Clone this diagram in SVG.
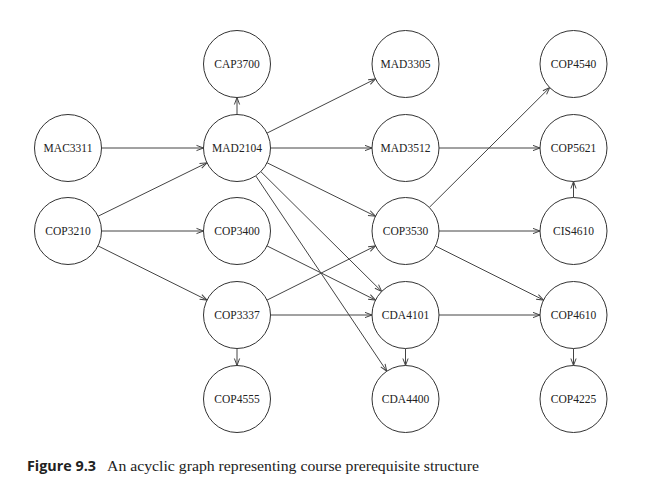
<svg xmlns="http://www.w3.org/2000/svg" width="658" height="499" viewBox="0 0 658 499">
<style>
.n circle{fill:#fff;stroke:#333;stroke-width:1}
.n text{font-family:"Liberation Serif","Times New Roman",serif;font-size:11.5px;fill:#222;text-anchor:middle}
.e line{stroke:#444;stroke-width:1;fill:none;marker-end:url(#a)}
.cap{font-size:15px;fill:#222}
</style>
<defs>
<marker id="a" markerUnits="userSpaceOnUse" viewBox="-1 -4 9 8" markerWidth="9" markerHeight="8" refX="7" refY="0" orient="auto">
<path d="M0,-2.6 L7,0 L0,2.6" fill="none" stroke="#444" stroke-width="1"/>
</marker>
</defs>
<rect width="658" height="499" fill="#fff"/>
<g id="connectors" class="e">
<line x1="237" y1="114.5" x2="237" y2="97.5"/>
<line x1="101.5" y1="148" x2="203.5" y2="148"/>
<line x1="98.1" y1="216.2" x2="206.9" y2="162.8"/>
<line x1="101.5" y1="231" x2="203.5" y2="231"/>
<line x1="98" y1="245.9" x2="207" y2="300.1"/>
<line x1="267" y1="133.1" x2="375.5" y2="78.9"/>
<line x1="270.5" y1="148" x2="372" y2="148"/>
<line x1="267.1" y1="162.8" x2="375.4" y2="216.2"/>
<line x1="260.8" y1="171.6" x2="381.7" y2="291.4"/>
<line x1="255.7" y1="175.8" x2="386.8" y2="371.2"/>
<line x1="267" y1="245.9" x2="375.5" y2="300.1"/>
<line x1="267" y1="300.1" x2="375.5" y2="245.9"/>
<line x1="270.5" y1="315" x2="372" y2="315"/>
<line x1="237" y1="348.5" x2="237" y2="365.5"/>
<line x1="439" y1="148" x2="540" y2="148"/>
<line x1="429.3" y1="207.4" x2="549.7" y2="87.6"/>
<line x1="439" y1="231" x2="540" y2="231"/>
<line x1="435.5" y1="246" x2="543.5" y2="300"/>
<line x1="573.5" y1="197.5" x2="573.5" y2="181.5"/>
<line x1="439" y1="315" x2="540" y2="315"/>
<line x1="405.5" y1="348.5" x2="405.5" y2="365.5"/>
<line x1="573.5" y1="348.5" x2="573.5" y2="365.5"/>
</g>
<g id="CAP3700" class="n"><circle cx="237" cy="64" r="33.5"/><text x="237" y="68">CAP3700</text></g>
<g id="MAD3305" class="n"><circle cx="405.5" cy="64" r="33.5"/><text x="405.5" y="68">MAD3305</text></g>
<g id="COP4540" class="n"><circle cx="573.5" cy="64" r="33.5"/><text x="573.5" y="68">COP4540</text></g>
<g id="MAC3311" class="n"><circle cx="68" cy="148" r="33.5"/><text x="68" y="152">MAC3311</text></g>
<g id="MAD2104" class="n"><circle cx="237" cy="148" r="33.5"/><text x="237" y="152">MAD2104</text></g>
<g id="MAD3512" class="n"><circle cx="405.5" cy="148" r="33.5"/><text x="405.5" y="152">MAD3512</text></g>
<g id="COP5621" class="n"><circle cx="573.5" cy="148" r="33.5"/><text x="573.5" y="152">COP5621</text></g>
<g id="COP3210" class="n"><circle cx="68" cy="231" r="33.5"/><text x="68" y="235">COP3210</text></g>
<g id="COP3400" class="n"><circle cx="237" cy="231" r="33.5"/><text x="237" y="235">COP3400</text></g>
<g id="COP3530" class="n"><circle cx="405.5" cy="231" r="33.5"/><text x="405.5" y="235">COP3530</text></g>
<g id="CIS4610" class="n"><circle cx="573.5" cy="231" r="33.5"/><text x="573.5" y="235">CIS4610</text></g>
<g id="COP3337" class="n"><circle cx="237" cy="315" r="33.5"/><text x="237" y="319">COP3337</text></g>
<g id="CDA4101" class="n"><circle cx="405.5" cy="315" r="33.5"/><text x="405.5" y="319">CDA4101</text></g>
<g id="COP4610" class="n"><circle cx="573.5" cy="315" r="33.5"/><text x="573.5" y="319">COP4610</text></g>
<g id="COP4555" class="n"><circle cx="237" cy="399" r="33.5"/><text x="237" y="403">COP4555</text></g>
<g id="CDA4400" class="n"><circle cx="405.5" cy="399" r="33.5"/><text x="405.5" y="403">CDA4400</text></g>
<g id="COP4225" class="n"><circle cx="573.5" cy="399" r="33.5"/><text x="573.5" y="403">COP4225</text></g>
<text class="cap" x="27" y="471" font-family="'Open Sans','Liberation Sans',sans-serif" font-weight="bold" textLength="69" lengthAdjust="spacingAndGlyphs">Figure 9.3</text>
<text class="cap" x="107" y="471" font-family="'Liberation Serif','Times New Roman',serif" textLength="372" lengthAdjust="spacingAndGlyphs">An acyclic graph representing course prerequisite structure</text>
</svg>
